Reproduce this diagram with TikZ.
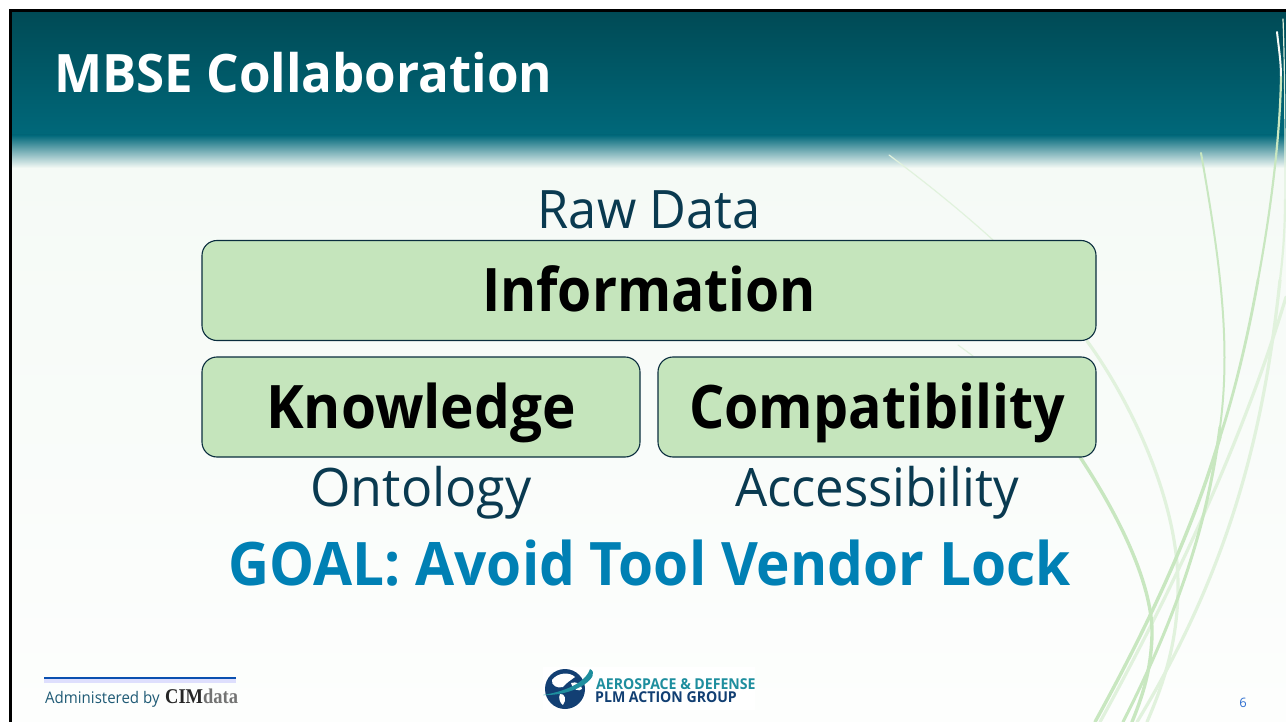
\documentclass[tikz,border=0pt]{standalone}
\usepackage{fontspec}
\setmainfont{Open Sans}
\newfontfamily\serifbrand{Liberation Serif}
\definecolor{boxfill}{HTML}{C5E5BC}
\definecolor{boxline}{HTML}{0A2D3E}
\definecolor{darktext}{HTML}{0A3A50}
\definecolor{goalblue}{HTML}{0080B4}
\definecolor{leafA}{HTML}{C8E7C0}
\definecolor{leafB}{HTML}{E1F2DD}
\definecolor{navy}{HTML}{123F73}
\definecolor{tealb}{HTML}{1E8E9E}
\definecolor{bodytop}{HTML}{F5FAF6}
\definecolor{bodybot}{HTML}{FDFEFD}
\definecolor{headtop}{HTML}{004A55}
\definecolor{headbot}{HTML}{00687A}
\newcommand{\fs}[1]{\fontsize{#1}{#1}\selectfont}
\tikzset{
  x=1pt,y=-1pt,
  greenbox/.style={draw=boxline,line width=1.1pt,fill=boxfill,rounded corners=15pt,inner sep=0pt,
    minimum height=100pt,text height=43pt,text depth=0pt,text=black,font=\fs{60}\bfseries},
  sublabel/.style={anchor=base,text=darktext,font=\fs{53},inner sep=0pt},
  leaf/.style={draw=leafA,line width=3.4pt,line cap=round},
  leafpale/.style={draw=leafB,line width=3.2pt,line cap=round},
}
\begin{document}
\begin{tikzpicture}
\useasboundingbox (0,0) rectangle (1286,722);
\fill[white] (0,0) rectangle (1286,722);
% slide background
\shade[top color=bodytop,bottom color=bodybot] (10,166) rectangle (1286,722);
% header band
\shade[top color=headtop,bottom color=headbot] (10,11) rectangle (1286,135);
\shade[top color=headbot,bottom color=bodytop] (10,135) rectangle (1286,168);
% slide border
\draw[black,line width=3pt] (10,722) -- (10,10.5) -- (1286,10.5);
% pale leaves
\draw[leafpale,line width=1.2pt] (889,155) .. controls (925,182) and (960,210) .. (993,240);
\draw[leafpale] (1087,341) .. controls (1130,400) and (1178,500) .. (1178,585) .. controls (1178,640) and (1165,680) .. (1147,722);
\draw[leafpale,line width=1.2pt] (958,345) -- (973,356);
\draw[leafpale,line width=1.2pt] (1283,19) .. controls (1285,70) and (1285,140) .. (1285,200);
\draw[leafpale,line width=2.2pt] (1285,200) .. controls (1285,230) and (1283,255) .. (1280,280);
\draw[leafpale] (1280,280) .. controls (1265,420) and (1235,560) .. (1137,722);
\draw[leafpale] (1286,297) .. controls (1255,400) and (1200,540) .. (1100,722);
% green leaves
\draw[leaf] (1080,457) .. controls (1125,525) and (1153,590) .. (1152,635) .. controls (1151,670) and (1143,695) .. (1132,722);
\draw[leaf,line width=2pt] (1201,153) .. controls (1218,250) and (1232,340) .. (1220,427);
\draw[leaf,line width=3pt] (1220,427) .. controls (1208,520) and (1180,610) .. (1123,722);
\draw[draw=white!85!leafA,line width=2pt,line cap=round] (1277,32) .. controls (1279,50) and (1281,62) .. (1281,77);
\draw[leaf,line width=2.2pt] (1281,77) .. controls (1280,140) and (1270,215) .. (1258,280);
\draw[leaf,line width=2.8pt] (1258,280) .. controls (1250,325) and (1237,385) .. (1220,437);
\draw[leaf] (1220,437) .. controls (1190,540) and (1140,640) .. (1095,722);
% title
\node[anchor=base west,inner sep=0pt,text=white,font=\fs{53}\bfseries] (title) at (54,92.5) {\scalebox{0.963}[1]{MBSE Collaboration}};
% text
\node[sublabel] (raw) at (649,229) {\scalebox{0.953}[1]{Raw Data}};
\node[greenbox,minimum width=894pt] (info) at (649,290.5) {\scalebox{0.92}[1]{Information}};
\node[greenbox,minimum width=438pt] (know) at (421,407) {\scalebox{0.945}[1]{Knowledge}};
\node[greenbox,minimum width=438pt] (comp) at (877,407) {\scalebox{0.925}[1]{Compatibility}};
\node[sublabel] (onto) at (421,506) {\scalebox{0.98}[1]{Ontology}};
\node[sublabel] (acc) at (877,506) {\scalebox{0.96}[1]{Accessibility}};
\node[anchor=base,inner sep=0pt,text=goalblue,font=\fs{60}\bfseries] (goal) at (649.5,585) {\scalebox{0.945}[1]{GOAL: Avoid Tool Vendor Lock}};
% administered footer
\fill[blue!30!white,opacity=.4] (44,679) rectangle (236,683);
\draw[draw={rgb,255:red,10;green,80;blue,176},line width=2pt] (44,678) -- (236,678);
\node[anchor=base west,inner sep=0pt,text={rgb,255:red,31;green,90;blue,117},font=\fs{16}] (admin) at (45,703) {\scalebox{0.94}[1]{Administered by}};
\node[anchor=base west,inner sep=0pt,font=\fs{21}\bfseries\serifbrand,text=black!85] (cim) at (165,703.5) {\scalebox{0.88}[1]{CIM\textcolor{black!55}{data}}};
% logo
\fill[white] (543,667) rectangle (755,710);
\fill[navy] (565,689) circle (20pt);
\fill[white] (552,680) .. controls (558,672) and (570,672) .. (575,677) .. controls (570,681) and (567,682) .. (563,687) .. controls (557,689) and (551,685) .. (552,680) -- cycle;
\fill[white] (571,683) .. controls (576,681) and (582,684) .. (582,689) .. controls (579,692) and (573,690) .. (571,683) -- cycle;
\fill[white] (560,694) .. controls (565,693) and (567,700) .. (563,705) .. controls (560,703) and (558,698) .. (560,694) -- cycle;
\fill[tealb] (543,695) .. controls (562,692) and (585,684) .. (590,669) .. controls (602,675) and (578,696) .. (543,695) -- cycle;
\node[anchor=base west,inner sep=0pt,text=tealb,font=\fs{15}\bfseries] (aero) at (596,689) {\scalebox{0.94}[1]{AEROSPACE \& DEFENSE}};
\node[anchor=base west,inner sep=0pt,text=navy,font=\fs{15}\bfseries] (plm) at (595,702.5) {\scalebox{0.94}[1]{PLM ACTION GROUP}};
% page number
\node[anchor=base,inner sep=0pt,text={rgb,255:red,47;green,111;blue,208},font=\fs{13}] (page) at (1243,707) {6};
\end{tikzpicture}
\end{document}
